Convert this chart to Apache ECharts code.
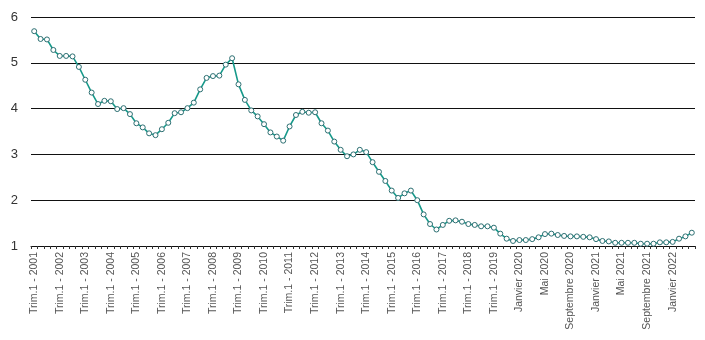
<!DOCTYPE html>
<html>
<head>
<meta charset="utf-8">
<script src="https://cdn.jsdelivr.net/npm/echarts@6/dist/echarts.min.js"></script>
<style>
  html, body { margin: 0; padding: 0; background: #fff; }
  #chart { width: 705px; height: 340px; }
</style>
</head>
<body>
<div id="chart"></div>
<script>
// Quarterly period 2001–2019, then monthly from January 2020
const quarterYears = [2001, 2002, 2003, 2004, 2005, 2006, 2007, 2008, 2009, 2010,
  2011, 2012, 2013, 2014, 2015, 2016, 2017, 2018, 2019];
const monthNames = ['Janvier', 'Février', 'Mars', 'Avril', 'Mai', 'Juin', 'Juillet',
  'Août', 'Septembre', 'Octobre', 'Novembre', 'Décembre'];
const monthlyYears = [2020, 2021, 2022];
const monthsIn2022 = 4;

// Quarterly values (Trim.1 2001 → Trim.4 2019)
const quarterlyValues = [
  5.69, 5.52, 5.51, 5.28, 5.15, 5.15, 5.14, 4.91,
  4.63, 4.35, 4.10, 4.17, 4.16, 3.99, 4.01, 3.88,
  3.68, 3.59, 3.46, 3.42, 3.55, 3.69, 3.90, 3.92,
  4.01, 4.13, 4.42, 4.67, 4.71, 4.72, 4.96, 5.10,
  4.53, 4.19, 3.96, 3.83, 3.66, 3.48, 3.39, 3.30,
  3.61, 3.86, 3.93, 3.91, 3.92, 3.68, 3.52, 3.28,
  3.10, 2.96, 3.00, 3.10, 3.05, 2.83, 2.62, 2.42,
  2.21, 2.05, 2.15, 2.21, 2.00, 1.69, 1.48, 1.36,
  1.46, 1.55, 1.56, 1.53, 1.48, 1.46, 1.43, 1.43,
  1.40, 1.27, 1.16, 1.11
];

// Monthly values (Janvier 2020 → Avril 2022)
const monthlyValues = [
  1.13, 1.13, 1.15, 1.19, 1.26, 1.27, 1.24, 1.22, 1.21, 1.21, 1.20, 1.19,
  1.15, 1.11, 1.10, 1.07, 1.07, 1.07, 1.07, 1.05, 1.05, 1.05, 1.08, 1.08,
  1.09, 1.16, 1.21, 1.29
];

const yTicks = [1, 2, 3, 4, 5, 6];

// Category labels
const categories = [];
quarterYears.forEach(y => {
  for (let q = 1; q <= 4; q++) categories.push('Trim.' + q + ' - ' + y);
});
monthlyYears.forEach(y => {
  const n = y === 2022 ? monthsIn2022 : 12;
  for (let m = 0; m < n; m++) categories.push(monthNames[m] + ' ' + y);
});

const values = quarterlyValues.concat(monthlyValues);

const chart = echarts.init(document.getElementById('chart'));
chart.setOption({
  animation: false,
  backgroundColor: '#ffffff',
  grid: { left: 31, right: 10, top: 17, bottom: 94, containLabel: false },
  xAxis: {
    type: 'category',
    data: categories,
    boundaryGap: true,
    axisLine: { show: true, lineStyle: { color: '#111', width: 1 } },
    axisTick: { show: true, interval: 0, length: 3, lineStyle: { color: '#333' } },
    axisLabel: {
      interval: 3,
      rotate: 90,
      fontSize: 10.5,
      fontFamily: 'Liberation Sans, Arial, sans-serif',
      color: '#555',
      margin: 6
    },
    splitLine: { show: false }
  },
  yAxis: {
    type: 'value',
    min: yTicks[0],
    max: yTicks[yTicks.length - 1],
    interval: 1,
    axisLine: { show: false },
    axisTick: { show: false },
    axisLabel: {
      fontSize: 13,
      fontFamily: 'Liberation Sans, Arial, sans-serif',
      color: '#333',
      margin: 13
    },
    splitLine: { show: true, lineStyle: { color: '#111', width: 1 } }
  },
  series: [{
    type: 'line',
    data: values,
    symbol: 'circle',
    symbolSize: 5,
    showAllSymbol: true,
    lineStyle: { color: '#16998a', width: 1.6 },
    itemStyle: { color: '#ffffff', borderColor: '#2c6f72', borderWidth: 1 }
  }]
});
</script>
</body>
</html>
